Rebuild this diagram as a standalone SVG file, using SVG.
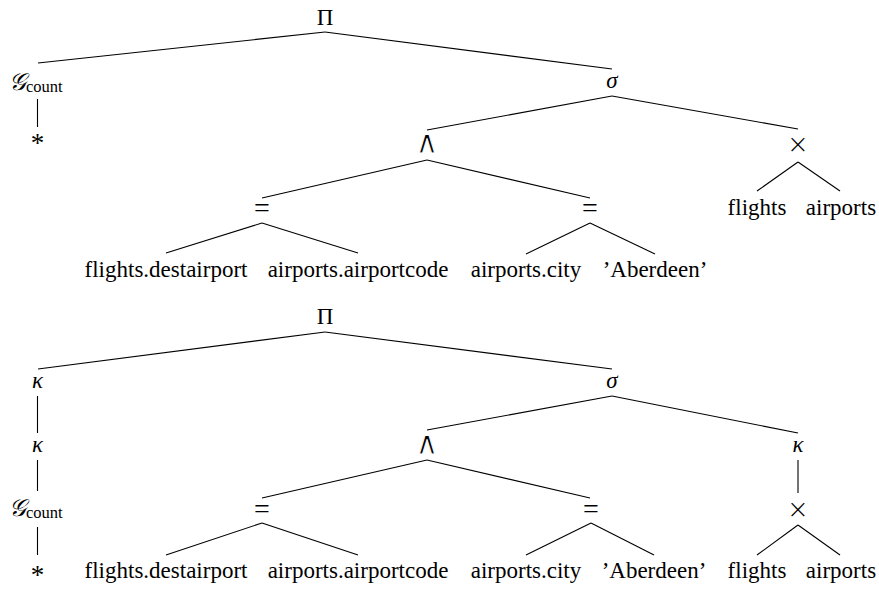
<svg xmlns="http://www.w3.org/2000/svg" width="879" height="590" viewBox="0 0 879 590">
<style>
text{font-size:23px;fill:#000;text-anchor:middle}
.it{font-style:italic}
.sub{font-size:16.5px}
.cal{font-style:italic;font-size:24px}
.op{font-family:"DejaVu Sans",sans-serif;font-weight:200;font-size:26px}
.and{font-family:"DejaVu Sans",sans-serif;font-size:32px;stroke:#fff;stroke-width:0.9;stroke-linejoin:round}
.eq{font-size:28px}
.st{font-size:27px}
#edges line{stroke:#000;stroke-width:1.1}
</style>
<rect width="879" height="590" fill="#fff"/>
<g id="edges">
<line x1="325" y1="32" x2="38" y2="63"/>
<line x1="325" y1="32" x2="612" y2="69"/>
<line x1="37.5" y1="99" x2="37.5" y2="127"/>
<line x1="612" y1="96" x2="427" y2="130"/>
<line x1="612" y1="96" x2="798" y2="129"/>
<line x1="427" y1="160" x2="262" y2="198"/>
<line x1="427" y1="160" x2="590" y2="198"/>
<line x1="798" y1="162" x2="757" y2="191"/>
<line x1="798" y1="162" x2="840" y2="191"/>
<line x1="262" y1="223" x2="166" y2="253"/>
<line x1="262" y1="223" x2="358" y2="253"/>
<line x1="590" y1="223" x2="526" y2="254"/>
<line x1="590" y1="223" x2="655" y2="254"/>
<line x1="325" y1="332" x2="38" y2="369"/>
<line x1="325" y1="332" x2="612" y2="369"/>
<line x1="37.5" y1="396" x2="37.5" y2="433"/>
<line x1="37.5" y1="460" x2="37.5" y2="491"/>
<line x1="37.5" y1="527" x2="37.5" y2="555"/>
<line x1="612" y1="396" x2="427" y2="430"/>
<line x1="612" y1="396" x2="798" y2="433"/>
<line x1="427" y1="460" x2="262" y2="498"/>
<line x1="427" y1="460" x2="590" y2="498"/>
<line x1="798" y1="460" x2="798" y2="493"/>
<line x1="798" y1="525" x2="757" y2="555"/>
<line x1="798" y1="525" x2="840" y2="555"/>
<line x1="262" y1="523" x2="166" y2="555"/>
<line x1="262" y1="523" x2="358" y2="555"/>
<line x1="591" y1="523" x2="526" y2="555"/>
<line x1="591" y1="523" x2="654" y2="555"/>
</g>
<g font-family="Liberation Serif, Times New Roman, DejaVu Serif, serif">
<g id="t1-pi"><text x="325" y="25">Π</text></g>
<g id="t1-gcount"><text x="9" y="90" style="text-anchor:start"><tspan class="cal">𝒢</tspan><tspan class="sub" dy="2">count</tspan></text></g>
<g id="t1-star"><text x="37.5" y="152" class="st">*</text></g>
<g id="t1-sigma"><text x="612" y="88" class="it">σ</text></g>
<g id="t1-and"><text x="427" y="153" class="and">∧</text></g>
<g id="t1-times"><text x="798" y="153" class="op">×</text></g>
<g id="t1-eq1"><text x="262" y="217" class="eq">=</text></g>
<g id="t1-eq2"><text x="590" y="217" class="eq">=</text></g>
<g id="t1-flights"><text x="757" y="215">flights</text></g>
<g id="t1-airports"><text x="841" y="215">airports</text></g>
<g id="t1-dest"><text x="166" y="277">flights.destairport</text></g>
<g id="t1-code"><text x="358" y="277">airports.airportcode</text></g>
<g id="t1-city"><text x="526" y="277">airports.city</text></g>
<g id="t1-aber"><text x="655" y="277">’Aberdeen’</text></g>
<g id="t2-pi"><text x="325" y="324">Π</text></g>
<g id="t2-kappa1"><text x="37.5" y="388" class="it">κ</text></g>
<g id="t2-kappa2"><text x="37.5" y="452" class="it">κ</text></g>
<g id="t2-gcount"><text x="9" y="516" style="text-anchor:start"><tspan class="cal">𝒢</tspan><tspan class="sub" dy="2">count</tspan></text></g>
<g id="t2-star"><text x="37.5" y="584" class="st">*</text></g>
<g id="t2-sigma"><text x="612" y="388" class="it">σ</text></g>
<g id="t2-and"><text x="427" y="454" class="and">∧</text></g>
<g id="t2-kappa3"><text x="798" y="452" class="it">κ</text></g>
<g id="t2-times"><text x="798" y="518" class="op">×</text></g>
<g id="t2-eq1"><text x="262" y="518" class="eq">=</text></g>
<g id="t2-eq2"><text x="591" y="518" class="eq">=</text></g>
<g id="t2-dest"><text x="166" y="578">flights.destairport</text></g>
<g id="t2-code"><text x="358" y="578">airports.airportcode</text></g>
<g id="t2-city"><text x="526" y="578">airports.city</text></g>
<g id="t2-aber"><text x="654" y="578">’Aberdeen’</text></g>
<g id="t2-flights"><text x="757" y="578">flights</text></g>
<g id="t2-airports"><text x="841" y="578">airports</text></g>
</g>
</svg>
